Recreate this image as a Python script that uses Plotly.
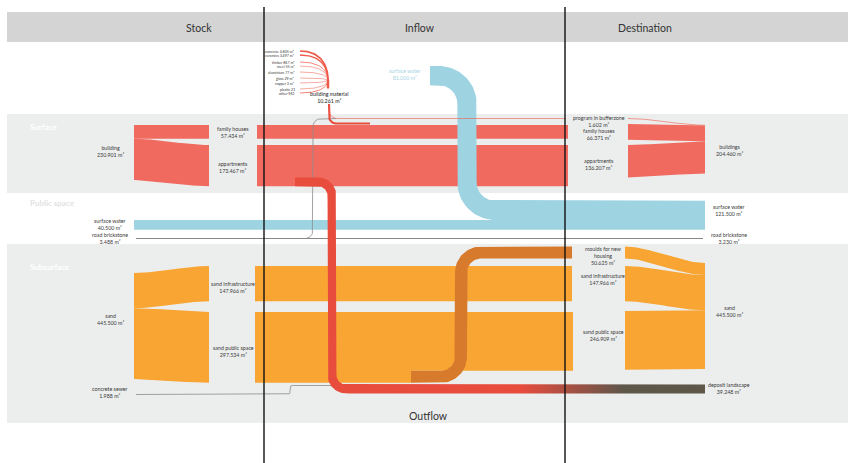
import numpy as np
import plotly.graph_objects as go

# ---------------- data ----------------
stock_surface_names = ["family houses", "appartments"]
stock_surface_values = [57434, 173467]
stock_building_total = 230901

dest_surface_names = ["program in bufferzone", "family houses", "appartments"]
dest_surface_values = [1602, 66371, 136207]
dest_buildings_total = 204460

material_names = ["concrete", "ceramics", "timber", "steel", "aluminium", "glass", "copper", "plastic", "other"]
material_values = [4805, 3497, 867, 55, 77, 29, 3, 21, 961]
material_units = ["m²", "m²", "m²", "m²", "m²", "m²", "m²", "", ""]
building_material_total = 10261

surface_water_stock = 40500
surface_water_inflow = 81000
surface_water_dest = 121500
road_brickstone_stock = 3488
road_brickstone_dest = 3230

sand_stock_total = 445500
sand_stock_names = ["sand infrastructure", "sand public space"]
sand_stock_values = [147966, 297534]
sand_dest_names = ["moulds for new<br>housing", "sand infrastructure", "sand public space"]
sand_dest_values = [50625, 147966, 246909]
sand_dest_total = 445500

concrete_sewer = 1988
deposit_landscape = 39248

columns = ["Stock", "Inflow", "Destination"]
sections = ["Surface", "Public space", "Subsurface"]

# derived flows
outflow_appartments = stock_surface_values[1] - dest_surface_values[2]
material_to_family = dest_surface_values[1] - stock_surface_values[0]
mould_flow = sand_stock_values[1] - sand_dest_values[2]

# ---------------- scale & layout ----------------
K = 1 / 4200.0  # px per m²
W, H = 854, 463
XS_L, XS_R = 134, 209      # stock split
XM_L, XM_R = 257, 568      # middle bars
XD_L, XD_R = 628, 705      # destination merge

SALMON = "#f16a5f"
RED = "#e84c3d"
ORANGE = "#f9a533"
MOULD = "#d77a2b"
BLUE = "#9ed3e2"
DARK = "#5f564a"
TXT = "#3a3a3a"
FONT = "Lato"

fig = go.Figure()


def nl(v):
    return f"{v:,}".replace(",", ".")


def add_poly(xs, ys, color, gradient=None):
    tr = go.Scatter(x=list(xs), y=list(ys), mode="lines", fill="toself",
                    fillcolor=color, line=dict(width=0, color=color),
                    hoverinfo="skip", showlegend=False)
    if gradient is not None:
        tr.fillgradient = gradient
    fig.add_trace(tr)


def rect(x0, x1, y0, y1, color):
    add_poly([x0, x1, x1, x0, x0], [y0, y0, y1, y1, y0], color)


def ribbon(x0, t0, b0, x1, t1, b1, color, n=50):
    u = np.linspace(0, 1, n)
    s = 3 * u ** 2 - 2 * u ** 3
    xs = x0 + (x1 - x0) * u
    top = t0 + (t1 - t0) * s
    bot = b0 + (b1 - b0) * s
    add_poly(np.concatenate([xs, xs[::-1]]), np.concatenate([top, bot[::-1]]), color)


def densify(p, q, step=1.5):
    n = max(2, int(np.linalg.norm(q - p) / step) + 1)
    return [p + (q - p) * t for t in np.linspace(0, 1, n)[1:]]


def centerline(pts, r):
    pts = [np.array(p, float) for p in pts]
    out = [pts[0]]
    for i in range(1, len(pts) - 1):
        p0, p1, p2 = pts[i - 1], pts[i], pts[i + 1]
        d1 = (p1 - p0) / np.linalg.norm(p1 - p0)
        d2 = (p2 - p1) / np.linalg.norm(p2 - p1)
        a = p1 - d1 * r
        b = p1 + d2 * r
        c = a + d2 * r
        out += densify(out[-1], a)
        a0 = np.arctan2(a[1] - c[1], a[0] - c[0])
        a1 = np.arctan2(b[1] - c[1], b[0] - c[0])
        diff = (a1 - a0 + np.pi) % (2 * np.pi) - np.pi
        for t in np.linspace(0, 1, 24)[1:]:
            ang = a0 + diff * t
            out.append(c + r * np.array([np.cos(ang), np.sin(ang)]))
    out += densify(out[-1], pts[-1])
    return np.array(out)


def band(pts, w, r, color, gradient=None):
    p = centerline(pts, r)
    n = len(p)
    normals = []
    for i in range(n):
        if i == 0:
            d = p[1] - p[0]
        elif i == n - 1:
            d = p[-1] - p[-2]
        else:
            u1 = p[i] - p[i - 1]
            u2 = p[i + 1] - p[i]
            d = u1 / np.linalg.norm(u1) + u2 / np.linalg.norm(u2)
        d = d / np.linalg.norm(d)
        normals.append([-d[1], d[0]])
    normals = np.array(normals)
    L = p + normals * w / 2
    R = p - normals * w / 2
    poly = np.vstack([L, R[::-1], L[:1]])
    add_poly(poly[:, 0], poly[:, 1], color, gradient)


def path_line(pts, r, color, width):
    p = centerline(pts, r) if len(pts) > 2 else np.array(pts, float)
    fig.add_trace(go.Scatter(x=p[:, 0], y=p[:, 1], mode="lines",
                             line=dict(color=color, width=width),
                             hoverinfo="skip", showlegend=False))


def bez(p0, p1, p2, p3, n=40):
    t = np.linspace(0, 1, n)[:, None]
    p0, p1, p2, p3 = map(lambda q: np.array(q, float), (p0, p1, p2, p3))
    return (1 - t) ** 3 * p0 + 3 * (1 - t) ** 2 * t * p1 + 3 * (1 - t) * t ** 2 * p2 + t ** 3 * p3


def lab(x, y, text, size=5.3, color=TXT, anchor="center", bold=False, family=FONT):
    fig.add_annotation(x=x, y=y, xref="x", yref="y",
                       text=f"<b>{text}</b>" if bold else text,
                       showarrow=False, xanchor=anchor, yanchor="middle",
                       align="center" if anchor == "center" else anchor,
                       font=dict(size=size, color=color, family=family))


# ---------------- backgrounds ----------------
shapes = [
    dict(type="rect", x0=7, x1=848, y0=12, y1=42, fillcolor="#d4d4d4", line_width=0, layer="below"),
    dict(type="rect", x0=7, x1=848, y0=114, y1=193, fillcolor="#eceeee", line_width=0, layer="below"),
    dict(type="rect", x0=7, x1=848, y0=244, y1=423, fillcolor="#eceeee", line_width=0, layer="below"),
]

# ---------------- surface: buildings ----------------
fam_w = stock_surface_values[0] * K
app_w = stock_surface_values[1] * K
top_b = 125
app_top_mid = 145
ribbon(XS_L, top_b, top_b + fam_w, XS_R, top_b, top_b + fam_w, SALMON)
ribbon(XS_L, top_b + fam_w, top_b + fam_w + app_w, XS_R, app_top_mid, app_top_mid + app_w, SALMON)
rect(XM_L, XM_R, top_b, top_b + fam_w, SALMON)
rect(XM_L, XM_R, app_top_mid, app_top_mid + app_w, SALMON)

# destination buildings
dfam_w = dest_surface_values[1] * K
dapp_w = dest_surface_values[2] * K
dprog_w = dest_surface_values[0] * K
dtop = 125
ribbon(XD_L, 124, 124 + dfam_w, XD_R, dtop + dprog_w, dtop + dprog_w + dfam_w, SALMON)
ribbon(XD_L, app_top_mid, app_top_mid + dapp_w, XD_R, dtop + dprog_w + dfam_w,
       dtop + dprog_w + dfam_w + dapp_w, SALMON)

# ---------------- sand ----------------
si_w = sand_stock_values[0] * K
sp_w = sand_stock_values[1] * K
s_top = 273
si_top = 266
sp_top = 312
ribbon(XS_L, s_top, s_top + si_w, XS_R, si_top, si_top + si_w, ORANGE)
ribbon(XS_L, s_top + si_w, s_top + si_w + sp_w, XS_R, sp_top, sp_top + sp_w, ORANGE)
rect(255, 572, si_top, si_top + si_w, ORANGE)
spd_w = sand_dest_values[2] * K
mould_start = 411
add_poly([255, 573, 573, mould_start, mould_start, 255, 255],
         [sp_top, sp_top, sp_top + spd_w, sp_top + spd_w, sp_top + sp_w, sp_top + sp_w, sp_top], ORANGE)

# destination sand
m_w = sand_dest_values[0] * K
m_top = 246.5
sd_top = 263
ribbon(625, m_top, m_top + m_w, XD_R, sd_top, sd_top + m_w, ORANGE)
ribbon(625, si_top, si_top + si_w, XD_R, sd_top + m_w, sd_top + m_w + si_w, ORANGE)
ribbon(625, sp_top - 1, sp_top - 1 + spd_w, XD_R, sd_top + m_w + si_w, sd_top + m_w + si_w + spd_w, ORANGE)

# moulds (sand public space -> moulds for new housing)
mw = mould_flow * K
band([(mould_start, sp_top + sp_w - mw / 2), (461, sp_top + sp_w - mw / 2),
      (461, m_top + mw / 2), (572, m_top + mw / 2)], mw, 20, MOULD)

# ---------------- public space: water & road ----------------
sw_w = surface_water_stock * K
sw_top = 220
rect(XS_L, XD_R, sw_top, sw_top + sw_w, BLUE)
iw = surface_water_inflow * K
band([(430, 66 + iw / 2), (467, 66 + iw / 2), (467, sw_top - iw / 2), (XD_R, sw_top - iw / 2)],
     iw, 28, BLUE)

path_line([(136, 238.5), (703, 238.5)], 0, "#7a7a7a", 0.9)
path_line([(336, 118.5), (313, 118.5), (313, 238.5), (292, 238.5)], 8, "#8c8c8c", 0.8)

# concrete sewer
path_line([(136, 394.5), (290, 394.5), (290, 385.5), (XD_R, 385.5)], 2, "#8c8c8c", 0.8)

# ---------------- outflow (appartments -> deposit landscape) ----------------
ow = outflow_appartments * K
oc = app_top_mid + app_w - ow / 2
band([(295, oc), (332, oc), (332, 389), (XD_R, 389)], ow, 14, RED,
     gradient=dict(type="horizontal", start=295, stop=XD_R,
                   colorscale=[[0, RED], [0.55, RED], [0.8, DARK], [1, DARK]]))

# ---------------- building material fan ----------------
fan_y = [51, 55, 62, 66, 72, 78, 83, 89, 93]
conv = (328, 80)
for name, v, unit, y in zip(material_names, material_values, material_units, fan_y):
    c = bez((300, y), (321, y), (328, (y + conv[1]) / 2), conv)
    fig.add_trace(go.Scatter(x=c[:, 0], y=c[:, 1], mode="lines",
                             line=dict(color="#ee5a4a", width=0.5 + v / 4000),
                             hoverinfo="skip", showlegend=False))
    lab(297, y, f"{name} {v:,} {unit}".strip(), size=3.6, anchor="right")
path_line([conv, (328, 88.5)], 0, "#ee5a4a", building_material_total * K)
path_line([(329, 104), (329, 123.5), (370, 123.5)], 7, RED, material_to_family * K)
path_line([(329, 104), (329, 118.5), (566, 118.5)], 8, "#ee5a4a", 0.6)
u = np.linspace(0, 1, 40)
s = 3 * u ** 2 - 2 * u ** 3
fig.add_trace(go.Scatter(x=XD_L + (XD_R - XD_L) * u, y=118.5 + (dtop + dprog_w / 2 - 118.5) * s,
                         mode="lines", line=dict(color="#ee5a4a", width=0.6),
                         hoverinfo="skip", showlegend=False))

# ---------------- vertical column separators ----------------
for xv in (264, 565):
    fig.add_trace(go.Scatter(x=[xv, xv], y=[7, H], mode="lines",
                             line=dict(color="#111111", width=1.4),
                             hoverinfo="skip", showlegend=False))

# ---------------- texts ----------------
for name, xc in zip(columns, (199, 420, 645)):
    lab(xc, 28, name, size=10.5, color="#333333")
lab(428, 416, "Outflow", size=10.5, color="#333333")
lab(28, 127, sections[0], size=8, color="#ffffff", anchor="left", bold=True)
lab(28, 203, sections[1], size=8, color="#e2e2e2", anchor="left", bold=True)
lab(28, 267, sections[2], size=8, color="#ffffff", anchor="left", bold=True)

lab(110, 151.5, f"building<br>{nl(stock_building_total)} m²")
lab(110, 224.5, f"surface water<br>{nl(surface_water_stock)} m²")
lab(110, 238, f"road brickstone<br>{nl(road_brickstone_stock)} m²")
lab(110, 319, f"sand<br>{nl(sand_stock_total)} m²")
lab(110, 392, f"concrete sewer<br>{nl(concrete_sewer)} m²")

lab(233, 132, f"{stock_surface_names[0]}<br>{nl(stock_surface_values[0])} m²")
lab(233, 167, f"{stock_surface_names[1]}<br>{nl(stock_surface_values[1])} m²")
lab(233, 287, f"{sand_stock_names[0]}<br>{nl(sand_stock_values[0])} m²")
lab(233, 351, f"{sand_stock_names[1]}<br>{nl(sand_stock_values[1])} m²")

lab(599, 121, f"{dest_surface_names[0]}<br>{nl(dest_surface_values[0])} m²")
lab(599, 134.5, f"{dest_surface_names[1]}<br>{nl(dest_surface_values[1])} m²")
lab(599, 164, f"{dest_surface_names[2]}<br>{nl(dest_surface_values[2])} m²")
lab(603, 256, f"{sand_dest_names[0]}<br>{nl(sand_dest_values[0])} m²")
lab(603, 279, f"{sand_dest_names[1]}<br>{nl(sand_dest_values[1])} m²")
lab(603, 335, f"{sand_dest_names[2]}<br>{nl(sand_dest_values[2])} m²")

lab(729, 150.5, f"buildings<br>{nl(dest_buildings_total)} m²")
lab(729, 210, f"surface water<br>{nl(surface_water_dest)} m²")
lab(729, 238, f"road brickstone<br>{nl(road_brickstone_dest)} m²")
lab(729, 311, f"sand<br>{nl(sand_dest_total)} m²")
lab(729, 388.5, f"deposit landscape<br>{nl(deposit_landscape)} m²")

lab(329, 97.5, f"building material<br>{nl(building_material_total)} m²", size=5.3, color="#222222")
lab(405, 74, f"surface water<br>{nl(surface_water_inflow)} m²", size=5.3, color="#a6d5e4")

fig.update_layout(
    width=W, height=H, autosize=False,
    margin=dict(l=0, r=0, t=0, b=0, pad=0),
    paper_bgcolor="white", plot_bgcolor="white",
    xaxis=dict(range=[0, W], visible=False, fixedrange=True),
    yaxis=dict(range=[H, 0], visible=False, fixedrange=True),
    shapes=shapes, showlegend=False,
)
fig.write_html("out.html", config={"displayModeBar": False},
               post_script="document.body.style.margin='0px';document.body.style.overflow='hidden';")
